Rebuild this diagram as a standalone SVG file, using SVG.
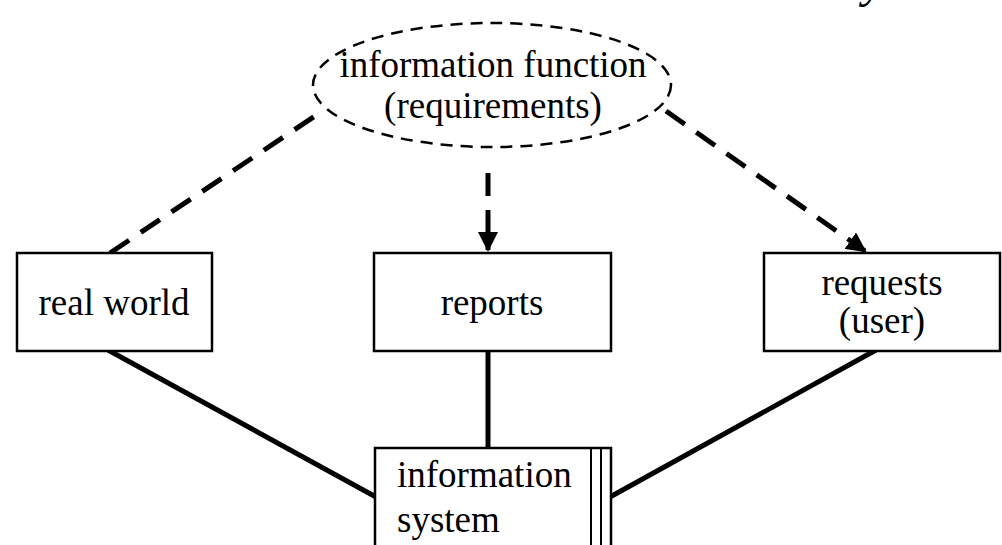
<svg xmlns="http://www.w3.org/2000/svg" width="1002" height="545" viewBox="0 0 1002 545">
<style>
text{font-family:"Liberation Serif","Times New Roman",serif;font-size:37px;fill:#000}
.box{fill:#fff;stroke:#000;stroke-width:2.5}
.solid{stroke:#000;stroke-width:5;fill:none}
.dash{stroke:#000;stroke-width:5;fill:none;stroke-dasharray:23 14}
</style>
<defs>
<marker id="arr" markerWidth="4" markerHeight="4" refX="3.6" refY="2" orient="auto" markerUnits="strokeWidth">
<path d="M0,0 L4,2 L0,4 Z" fill="#000"/>
</marker>
</defs>
<text x="863" y="-3" style="font-style:italic;font-size:48px">y</text>
<g id="connectors">
<line class="solid" x1="108" y1="350" x2="376" y2="497"/>
<line class="solid" x1="488" y1="350" x2="488" y2="449"/>
<line class="solid" x1="876" y1="350" x2="610" y2="497"/>
<line class="dash" x1="110" y1="253" x2="318" y2="114"/>
<line class="dash" x1="488" y1="173" x2="488" y2="250" marker-end="url(#arr)"/>
<line class="dash" x1="666" y1="111" x2="865" y2="251" marker-end="url(#arr)"/>
</g>
<g id="ellipse-node">
<ellipse cx="492" cy="85" rx="179" ry="62" fill="none" stroke="#000" stroke-width="2.5" stroke-dasharray="12 8"/>
<text x="493" y="77" text-anchor="middle">information function</text>
<text x="493" y="118" text-anchor="middle">(requirements)</text>
</g>
<g id="real-world">
<rect class="box" x="17" y="253" width="195" height="98"/>
<text x="114" y="315" text-anchor="middle">real world</text>
</g>
<g id="reports">
<rect class="box" x="374" y="253" width="237" height="98"/>
<text x="492" y="315" text-anchor="middle">reports</text>
</g>
<g id="requests">
<rect class="box" x="764" y="253" width="236" height="98"/>
<text x="882" y="295" text-anchor="middle">requests</text>
<text x="882" y="333" text-anchor="middle">(user)</text>
</g>
<g id="information-system">
<rect class="box" x="375" y="448" width="236" height="120"/>
<line x1="591" y1="448" x2="591" y2="568" stroke="#000" stroke-width="2"/>
<line x1="601" y1="448" x2="601" y2="568" stroke="#000" stroke-width="2"/>
<text x="397" y="487">information</text>
<text x="397" y="532">system</text>
</g>
</svg>
